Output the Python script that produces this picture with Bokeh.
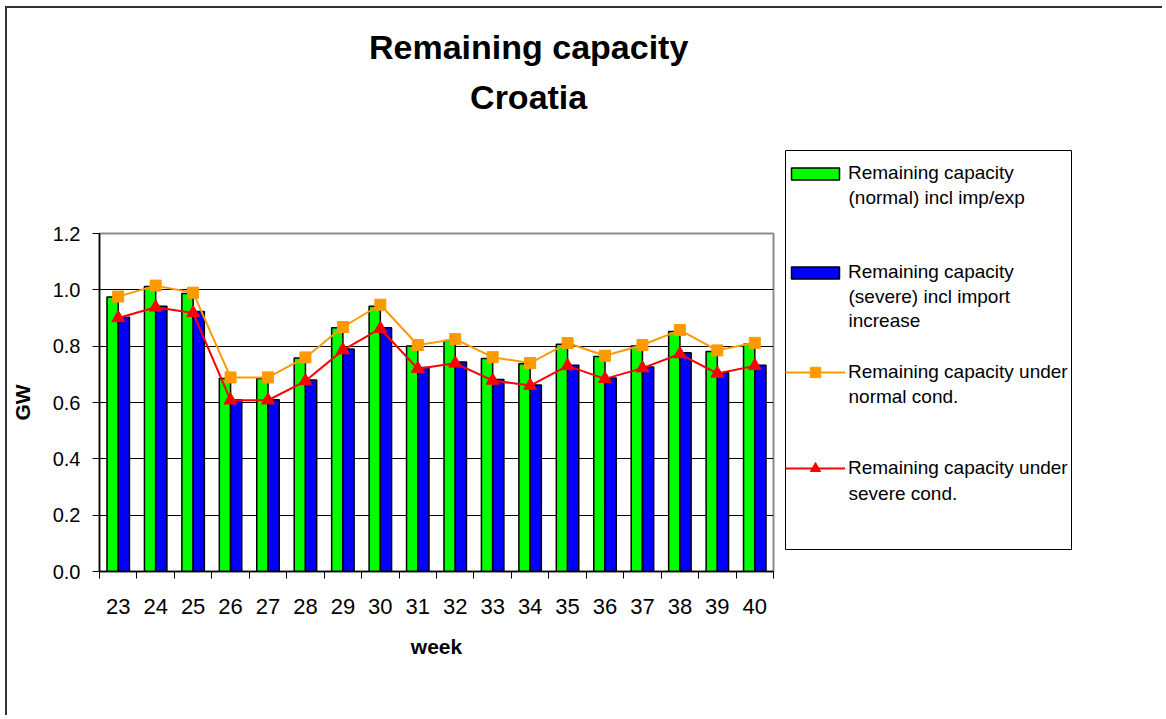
from bokeh.plotting import figure
from bokeh.layouts import row, column
from bokeh.models import (ColumnDataSource, Range1d, FixedTicker, PrintfTickFormatter,
                          Legend, LegendItem, Label, BoxAnnotation)
from bokeh.transform import dodge
from bokeh.embed import file_html
from bokeh.resources import INLINE

weeks = [23, 24, 25, 26, 27, 28, 29, 30, 31, 32, 33, 34, 35, 36, 37, 38, 39, 40]
normal_bars = [0.975, 1.012, 0.987, 0.685, 0.685, 0.758, 0.865, 0.942, 0.801,
               0.820, 0.756, 0.738, 0.807, 0.763, 0.801, 0.852, 0.781, 0.807]
severe_bars = [0.903, 0.942, 0.923, 0.610, 0.610, 0.680, 0.790, 0.865, 0.724,
               0.744, 0.682, 0.662, 0.732, 0.687, 0.726, 0.777, 0.706, 0.732]
normal_line = [0.976, 1.015, 0.990, 0.689, 0.689, 0.760, 0.868, 0.947, 0.804,
               0.825, 0.761, 0.740, 0.811, 0.766, 0.804, 0.857, 0.785, 0.812]
severe_line = [0.900, 0.938, 0.918, 0.608, 0.608, 0.676, 0.786, 0.862, 0.720,
               0.739, 0.678, 0.660, 0.730, 0.684, 0.722, 0.772, 0.703, 0.730]
y_ticks = [0.0, 0.2, 0.4, 0.6, 0.8, 1.0, 1.2]

title_lines = ["Remaining capacity", "Croatia"]
legend_lines = [["Remaining capacity", "(normal) incl imp/exp"],
                ["Remaining capacity", "(severe) incl import", "increase"],
                ["Remaining capacity under", "normal cond."],
                ["Remaining capacity under", "severe cond."]]

FONT = "Liberation Sans"
GREEN, BLUE, ORANGE, RED = "#00ff00", "#0000ff", "#ff9900", "#ff0000"
BORDER = "2px solid #333"

src = ColumnDataSource(dict(week=weeks, nb=normal_bars, sb=severe_bars,
                            nl=normal_line, sl=severe_line))

# ---------------- title strip ----------------
pt = figure(width=779, height=130, output_backend="svg", toolbar_location=None,
            x_range=Range1d(0, 779), y_range=Range1d(0, 130),
            x_axis_location=None, y_axis_location=None, min_border=0)
pt.grid.visible = False
pt.outline_line_color = None
pt.styles = {"border-left": BORDER, "border-top": BORDER,
             "margin-left": "5px", "margin-top": "6px"}
for txt, yy in ((title_lines[0], 92), (title_lines[1], 42)):
    pt.add_layout(Label(x=496, y=yy, text=txt, text_align="center",
                        text_baseline="alphabetic", text_font=FONT,
                        text_font_style="bold", text_font_size="34px",
                        text_color="black"))

# ---------------- main chart ----------------
p = figure(width=779, height=579, output_backend="svg", toolbar_location=None,
           x_range=Range1d(22.5, 40.5), y_range=Range1d(0, 1.2),
           min_border_left=92, min_border_top=97, min_border_right=13,
           min_border_bottom=144)
p.styles = {"border-left": BORDER, "margin-left": "5px"}
p.outline_line_color = "#8c8c8c"
p.outline_line_width = 2

p.vbar(x=dodge("week", -0.15, range=p.x_range), top="nb", width=0.3, source=src,
       fill_color=GREEN, line_color="black", line_width=1.5)
p.vbar(x=dodge("week", 0.15, range=p.x_range), top="sb", width=0.3, source=src,
       fill_color=BLUE, line_color="black", line_width=1.5)
p.line("week", "nl", source=src, line_color=ORANGE, line_width=2)
p.scatter("week", "nl", source=src, marker="square", size=11,
          fill_color=ORANGE, line_color=ORANGE)
p.line("week", "sl", source=src, line_color=RED, line_width=2)
p.scatter("week", "sl", source=src, marker="triangle", size=13,
          fill_color=RED, line_color=RED)

p.xgrid.grid_line_color = None
p.ygrid.ticker = FixedTicker(ticks=y_ticks[1:-1])
p.ygrid.grid_line_color = "black"
p.ygrid.grid_line_width = 1

p.yaxis.ticker = FixedTicker(ticks=y_ticks)
p.yaxis.formatter = PrintfTickFormatter(format="%.1f")
p.yaxis.minor_tick_line_color = None
p.yaxis.major_tick_out = 7
p.yaxis.major_tick_in = 0
p.yaxis.major_label_standoff = 12
p.yaxis.axis_label = "GW"
p.yaxis.axis_label_standoff = 16

p.xaxis.ticker = FixedTicker(ticks=weeks, minor_ticks=[w - 0.5 for w in weeks] + [40.5])
p.xaxis.major_tick_line_color = None
p.xaxis.major_tick_out = 7
p.xaxis.minor_tick_out = 7
p.xaxis.minor_tick_in = 0
p.xaxis.minor_tick_line_color = "black"
p.xaxis.major_label_standoff = 20
p.xaxis.axis_label = "week"
p.xaxis.axis_label_standoff = 18

for ax in (p.xaxis[0], p.yaxis[0]):
    ax.axis_line_color = "black"
    ax.axis_line_width = 1.5
    ax.major_label_text_font = FONT
    ax.major_label_text_color = "black"
    ax.axis_label_text_font = FONT
    ax.axis_label_text_font_style = "bold"
    ax.axis_label_text_color = "black"
    ax.axis_label_text_font_size = "21px"
p.yaxis.major_label_text_font_size = "20px"
p.xaxis.major_label_text_font_size = "22px"

# ---------------- legend panel ----------------
pl = figure(width=378, height=709, output_backend="svg", toolbar_location=None,
            x_range=Range1d(0, 378), y_range=Range1d(0, 709),
            x_axis_location=None, y_axis_location=None, min_border=0)
pl.grid.visible = False
pl.outline_line_color = None
pl.styles = {"border-top": BORDER, "margin-top": "6px"}

pl.add_layout(BoxAnnotation(left=1, right=287, bottom=168, top=567,
                            fill_color="white", fill_alpha=1,
                            line_color="black", line_alpha=1, line_width=1))

# legend proxies (kept outside the visible range of this panel)
off = [-100]
kg = pl.vbar(x=off, top=[1], width=1, fill_color=GREEN, line_color="black", line_width=1.5)
kb = pl.vbar(x=off, top=[1], width=1, fill_color=BLUE, line_color="black", line_width=1.5)
ko = [pl.line(x=off, y=[1], line_color=ORANGE, line_width=2),
      pl.scatter(x=off, y=[1], marker="square", size=11,
                 fill_color=ORANGE, line_color=ORANGE)]
kr = [pl.line(x=off, y=[1], line_color=RED, line_width=2),
      pl.scatter(x=off, y=[1], marker="triangle", size=13,
                 fill_color=RED, line_color=RED)]

entries = [([kg], 15, 544, [520]),
           ([kb], 15, 445, [421, 397]),
           (ko, 26, 345, [321]),
           (kr, 26, 249, [224])]
for (rends, gh, yc, extra), lines in zip(entries, legend_lines):
    ih = max(gh, 24)
    lg = Legend(items=[LegendItem(label=lines[0], renderers=rends)],
                location=(1, yc - ih / 2), orientation="vertical",
                border_line_color=None, background_fill_alpha=0,
                padding=0, spacing=0, margin=0,
                glyph_width=60, glyph_height=gh, label_height=24, label_standoff=3,
                label_text_font=FONT, label_text_font_size="19px",
                label_text_color="black")
    pl.add_layout(lg, "center")
    for txt, yy in zip(lines[1:], extra):
        pl.add_layout(Label(x=64, y=yy, text=txt, text_align="left",
                            text_baseline="middle", text_font=FONT,
                            text_font_size="19px", text_color="black"))

layout = row(column(pt, p), pl)
open("out.html", "w").write(file_html(layout, INLINE))
